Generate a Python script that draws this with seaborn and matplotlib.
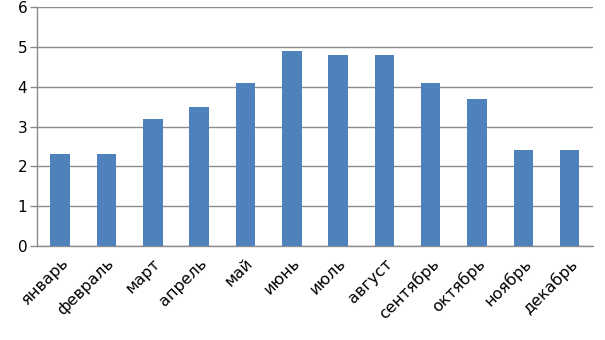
import matplotlib
matplotlib.use("Agg")
import matplotlib.pyplot as plt
import seaborn as sns
import pandas as pd
import numpy as np

months = ["январь", "февраль", "март", "апрель", "май", "июнь", "июль",
          "август", "сентябрь", "октябрь", "ноябрь", "декабрь"]
values = [2.3, 2.3, 3.2, 3.5, 4.1, 4.9, 4.8, 4.8, 4.1, 3.7, 2.4, 2.4]

sns.set_style("white")
plt.rcParams['font.family'] = ['DejaVu Sans']
plt.rcParams['text.color'] = 'black'
plt.rcParams['xtick.color'] = 'black'
plt.rcParams['ytick.color'] = 'black'

df = pd.DataFrame({"month": months, "value": values})

fig = plt.figure(figsize=(6.05, 3.4), dpi=100)
ax = fig.add_axes([0.0612, 0.2765, 0.9188, 0.7025])

sns.barplot(data=df, x="month", y="value", color="#4f81bd", saturation=1,
            width=0.42, ax=ax, zorder=3, linewidth=0, edgecolor="none")

ax.set_ylim(0, 6)
ax.set_xlim(-0.5, len(months) - 0.5)
ax.set_yticks(range(0, 7))
ax.yaxis.grid(True, color="#8c8c8c", linewidth=1, zorder=0)
ax.set_axisbelow(True)
ax.set_xlabel("")
ax.set_ylabel("")

for s in ["top", "right"]:
    ax.spines[s].set_visible(False)
for s in ["left", "bottom"]:
    ax.spines[s].set_color("#8c8c8c")
    ax.spines[s].set_linewidth(1)

ax.set_xticks(np.arange(len(months)))
ax.set_xticklabels(months, rotation=45, ha="right", rotation_mode="anchor", fontsize=11.5)
ax.tick_params(axis="x", which="major", length=0, pad=7, labelcolor="black")
ax.set_xticks(np.arange(-0.5, len(months)), minor=True)
ax.tick_params(axis="x", which="minor", length=5, color="#8c8c8c", width=1, direction="out")
ax.tick_params(axis="y", length=5, color="#8c8c8c", width=1, labelsize=11, pad=2,
               direction="out", left=True, labelcolor="black")

fig.savefig("out.png", dpi=100)
